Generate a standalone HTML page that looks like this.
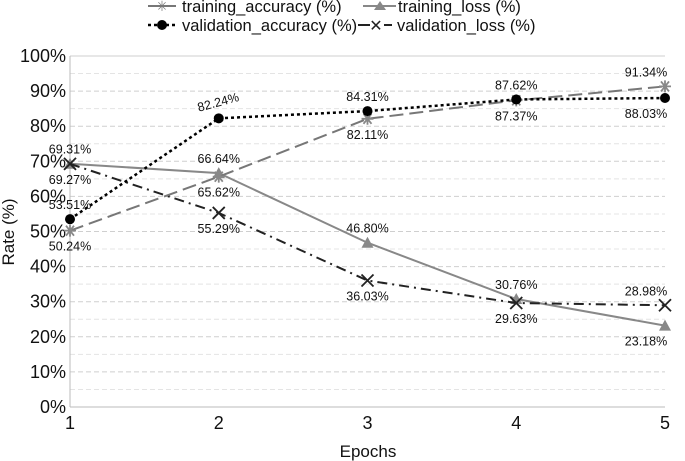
<!DOCTYPE html>
<html><head><meta charset="utf-8"><style>
body{margin:0;background:#fff}
svg{font-family:"Liberation Sans",sans-serif;display:block}
</style></head><body>
<svg id="c" width="685" height="461" viewBox="0 0 685 461">
<g id="grid"></g>
<g id="axes"></g>
<g id="series"></g>
<g id="labels"></g>
<text x="368" y="457" font-size="17" text-anchor="middle" fill="#111">Epochs</text>
<text transform="translate(14,232) rotate(-90)" font-size="17" text-anchor="middle" fill="#111">Rate (%)</text>
<g font-size="16.5" fill="#111">
<g>
<line x1="148" y1="6" x2="176" y2="6" stroke="#777" stroke-width="2"/>
<text x="162" y="11" font-size="14" text-anchor="middle" fill="#777">✳</text>
<text x="182" y="12">training_accuracy (%)</text></g>
<g>
<line x1="363" y1="6" x2="396" y2="6" stroke="#888" stroke-width="2"/>
<polygon points="380,1 386,10 374,10" fill="#888"/>
<text x="398" y="12">training_loss (%)</text></g>
<g>
<line x1="148" y1="25" x2="176" y2="25" stroke="#000" stroke-width="2.5" stroke-dasharray="3,3"/>
<circle cx="162" cy="25" r="5" fill="#000"/>
<text x="182" y="31">validation_accuracy (%)</text></g>
<g>
<line x1="358" y1="25" x2="370" y2="25" stroke="#222" stroke-width="2"/>
<text x="376" y="31" text-anchor="middle" font-size="16" fill="#222">✕</text>
<line x1="384" y1="25" x2="392" y2="25" stroke="#222" stroke-width="2"/>
<text x="397" y="31">validation_loss (%)</text></g>
</g>
</svg>
<script>
const epochs=[1,2,3,4,5];
const yTicks=[0,10,20,30,40,50,60,70,80,90,100];
const trainAcc=[50.24,65.62,82.11,87.37,91.34];
const valAcc=[53.51,82.24,84.31,87.62,88.03];
const trainLoss=[69.31,66.64,46.80,30.76,23.18];
const valLoss=[69.27,55.29,36.03,29.63,28.98];
const NS="http://www.w3.org/2000/svg";
const X=e=>70+(e-1)*(665-70)/4;
const Y=v=>407-v*(407-56)/100;
function mk(t,a,p){const el=document.createElementNS(NS,t);for(const k in a)el.setAttribute(k,a[k]);p.appendChild(el);return el;}
const grid=document.getElementById('grid'),axes=document.getElementById('axes'),ser=document.getElementById('series'),lab=document.getElementById('labels');
for(let v=5;v<=100;v+=5){
 const l=mk('line',{x1:70,x2:665,y1:Y(v),y2:Y(v),stroke:v%10?'#e4e4e4':'#cfcfcf','stroke-dasharray':v==100?'':'5,3','stroke-width':1},grid);
 
 
}
const ya=mk('line',{x1:70,x2:70,y1:56,y2:407,stroke:'#bbb'},axes);


const xa=mk('line',{x1:70,x2:665,y1:407,y2:407,stroke:'#bbb'},axes);


yTicks.forEach(v=>{
 const t=mk('text',{x:66,y:Y(v)+6,'font-size':18,'text-anchor':'end',fill:'#111'},axes);t.textContent=v+'%';
 
 
});
epochs.forEach(e=>{
 const t=mk('text',{x:X(e),y:429,'font-size':18,'text-anchor':'middle',fill:'#111'},axes);t.textContent=e;
 
 
});
function series(vals,name,stroke,dash,w,marker,pos){
 const pts=vals.map((v,i)=>X(epochs[i])+','+Y(v)).join(' ');
 const pl=mk('polyline',{points:pts,fill:'none',stroke:stroke,'stroke-width':w,'stroke-dasharray':dash},ser);
 
 
 vals.forEach((v,i)=>{
  const x=X(epochs[i]),y=Y(v);let m;
  if(marker=='circle')m=mk('circle',{cx:x,cy:y,r:5,fill:'#000'},ser);
  else if(marker=='tri')m=mk('polygon',{points:`${x},${y-6} ${x+6},${y+5} ${x-6},${y+5}`,fill:'#888'},ser);
  else if(marker=='x')m=mk('path',{d:`M${x-6} ${y-6}L${x+6} ${y+6}M${x-6} ${y+6}L${x+6} ${y-6}`,stroke:'#222','stroke-width':1.8},ser);
  else m=mk('path',{d:`M${x-6} ${y}L${x+6} ${y}M${x-4} ${y-5}L${x+4} ${y+5}M${x-4} ${y+5}L${x+4} ${y-5}M${x} ${y-6}L${x} ${y+6}`,stroke:'#888','stroke-width':1.8},ser);
  
  
  const up=pos[i]=='a';
  const tx=Math.min(x,646);
  const t=mk('text',{x:tx,y:up?y-10:y+20,'font-size':12.5,'text-anchor':'middle',fill:'#111'},lab);
  t.textContent=v.toFixed(2)+'%';
  if(name=='validation-accuracy'&&i==1){t.setAttribute('transform',`rotate(-15 ${x} ${y-14})`);t.setAttribute('y',y-12);}
  
  
 });
}
series(trainLoss,'training-loss','#888','',2,'tri',['a','a','a','a','b']);
series(valLoss,'validation-loss','#222','10,5,2,5',2,'x',['b','b','b','b','a']);
series(trainAcc,'training-accuracy','#777','14,6',2,'star',['b','b','b','b','a']);
series(valAcc,'validation-accuracy','#000','3,3',2.5,'circle',['a','a','a','a','b']);
</script>
</body></html>
